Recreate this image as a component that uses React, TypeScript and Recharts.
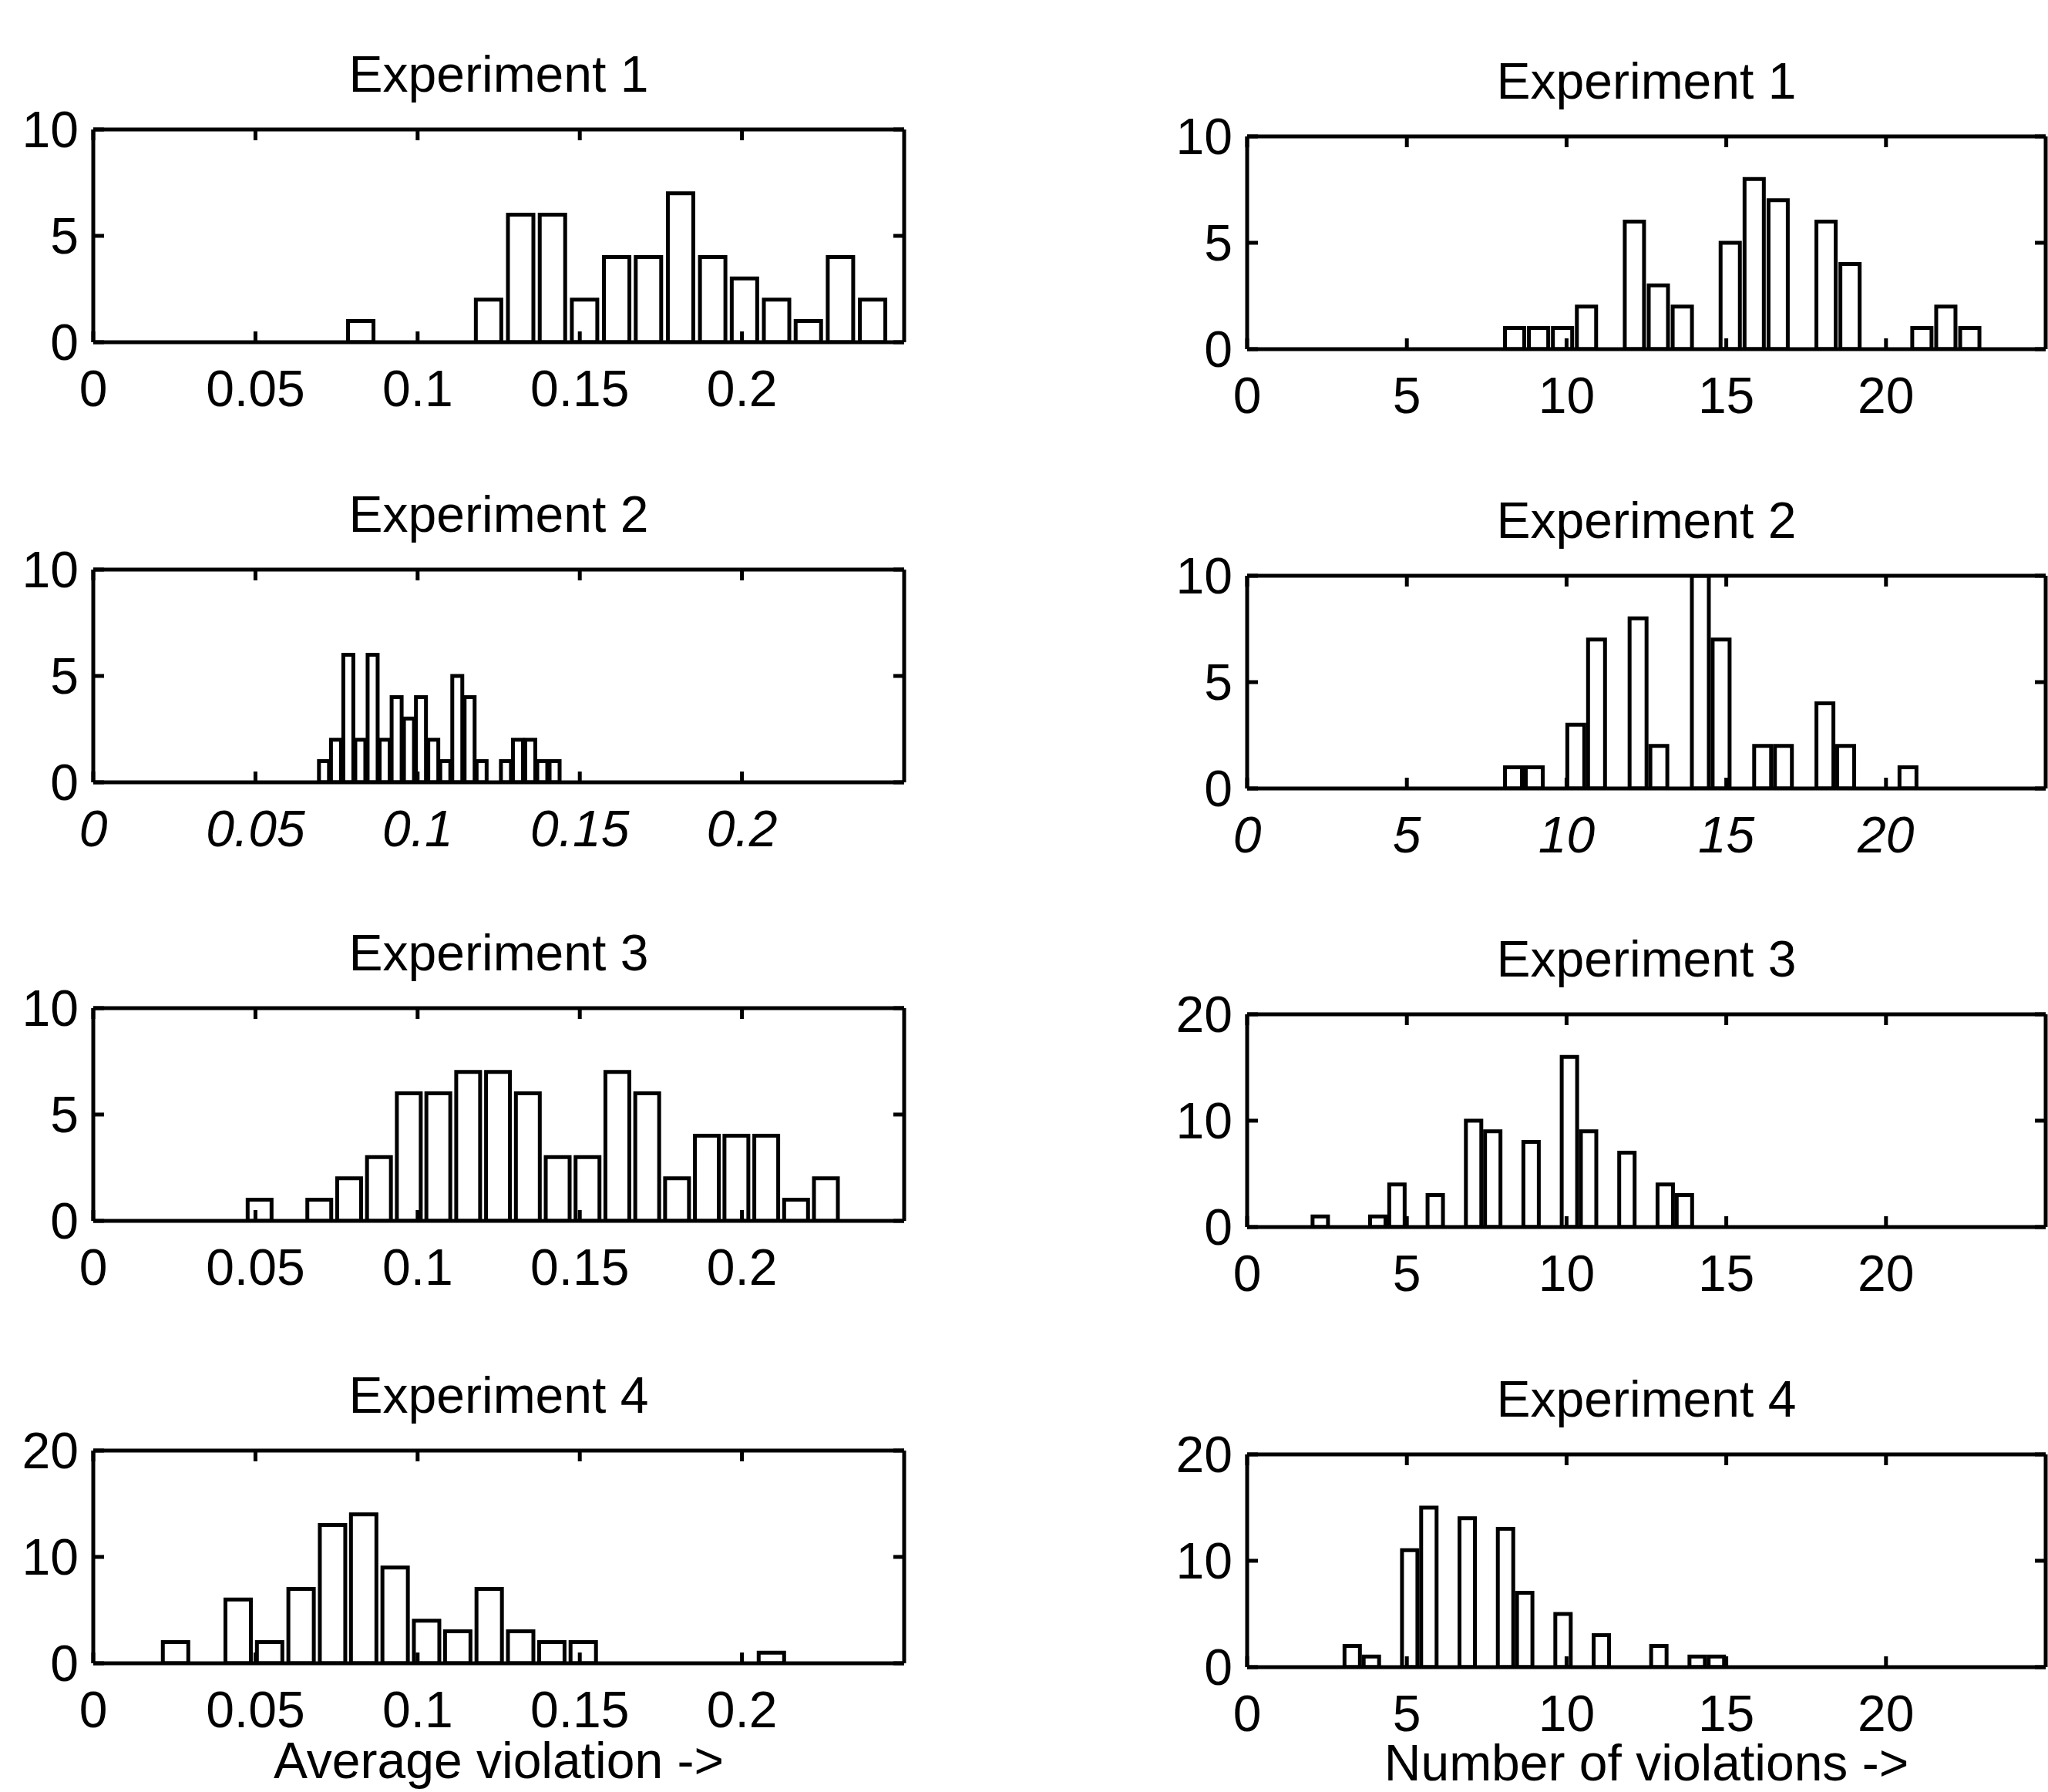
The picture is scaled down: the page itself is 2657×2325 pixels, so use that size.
import React from "react";
import { BarChart, Bar, XAxis, YAxis } from "recharts";

// left column: average violation (bin centres + counts)
const exp1AvgBins = [0.0825, 0.1219, 0.1318, 0.1416, 0.1515, 0.1614, 0.1712, 0.1811, 0.191, 0.2008, 0.2107, 0.2205, 0.2304, 0.2403];
const exp1AvgCounts = [1, 2, 6, 6, 2, 4, 4, 7, 4, 3, 2, 1, 4, 2];

const exp2AvgBins = [0.0712, 0.0749, 0.0787, 0.0824, 0.0862, 0.0899, 0.0936, 0.0974, 0.1011, 0.1049, 0.1086, 0.1123, 0.1161, 0.1198, 0.1273, 0.131, 0.1348, 0.1385, 0.1423];
const exp2AvgCounts = [1, 2, 6, 2, 6, 2, 4, 3, 4, 2, 1, 5, 4, 1, 1, 2, 2, 1, 1];

const exp3AvgBins = [0.0512, 0.0696, 0.0788, 0.088, 0.0972, 0.1063, 0.1155, 0.1247, 0.1339, 0.1431, 0.1523, 0.1615, 0.1707, 0.1799, 0.1891, 0.1982, 0.2074, 0.2166, 0.2258];
const exp3AvgCounts = [1, 1, 2, 3, 6, 6, 7, 7, 6, 3, 3, 7, 6, 2, 4, 4, 4, 1, 2];

const exp4AvgBins = [0.0253, 0.0446, 0.0543, 0.064, 0.0737, 0.0833, 0.093, 0.1027, 0.1123, 0.122, 0.1317, 0.1413, 0.151, 0.209];
const exp4AvgCounts = [2, 6, 2, 7, 13, 14, 9, 4, 3, 7, 3, 2, 2, 1];

// right column: number of violations
const exp1NumBins = [8.375, 9.125, 9.875, 10.625, 12.125, 12.875, 13.625, 15.125, 15.875, 16.625, 18.125, 18.875, 21.125, 21.875, 22.625];
const exp1NumCounts = [1, 1, 1, 2, 6, 3, 2, 5, 8, 7, 6, 4, 1, 2, 1];

const exp2NumBins = [8.35, 9.0, 10.3, 10.95, 12.25, 12.9, 14.2, 14.85, 16.15, 16.8, 18.1, 18.75, 20.7];
const exp2NumCounts = [1, 1, 3, 7, 8, 2, 10, 7, 2, 2, 4, 2, 1];

const exp3NumBins = [2.3, 4.1, 4.7, 5.9, 7.1, 7.7, 8.9, 10.1, 10.7, 11.9, 13.1, 13.7];
const exp3NumCounts = [1, 1, 4, 3, 10, 9, 8, 16, 9, 7, 4, 3];

const exp4NumBins = [3.3, 3.9, 5.1, 5.7, 6.9, 8.1, 8.7, 9.9, 11.1, 12.9, 14.1, 14.7];
const exp4NumCounts = [2, 1, 11, 15, 14, 13, 7, 5, 3, 2, 1, 1];

const avgTicks = [0, 0.05, 0.1, 0.15, 0.2];
const numTicks = [0, 5, 10, 15, 20];
const yTicks10 = [0, 5, 10];
const yTicks20 = [0, 10, 20];
const titles = ["Experiment 1", "Experiment 2", "Experiment 3", "Experiment 4"];

const FONT = '"Liberation Sans", Arial, Helvetica, sans-serif';
const FS = 66;
const LW = 140;
const RW = 20;
const TH = 60; // room above the box so the top y label isn't clipped
const BH = 120;

type HistProps = {
  bins: number[];
  counts: number[];
  binWidth: number;
  xMax: number;
  xTicks: number[];
  yMax: number;
  yTicks: number[];
  left: number;
  top: number;
  plotW: number;
  plotH: number;
  title: string;
  italicX?: boolean;
};

function Hist({ bins, counts, binWidth, xMax, xTicks, yMax, yTicks, left, top, plotW, plotH, title, italicX }: HistProps) {
  const data = bins.map((x, i) => ({ x, n: counts[i] }));
  const barSize = Math.round((binWidth / xMax) * plotW * 0.8);
  const tickFont = { fontFamily: FONT, fontSize: FS, fill: "#000" };
  const line = { stroke: "#000", strokeWidth: 5 };
  const blank = () => "";

  return (
    <>
      <div
        style={{
          position: "absolute",
          left,
          top: top - 105,
          width: plotW,
          textAlign: "center",
          fontFamily: FONT,
          fontSize: FS,
          lineHeight: `${FS}px`,
        }}
      >
        {title}
      </div>
      <div style={{ position: "absolute", left: left - LW, top: top - TH }}>
        <BarChart
          width={LW + plotW + RW}
          height={TH + plotH + BH}
          data={data}
          margin={{ top: 0, right: 0, bottom: 0, left: 0 }}
        >
          <XAxis
            xAxisId="bottom"
            dataKey="x"
            type="number"
            domain={[0, xMax]}
            allowDataOverflow
            ticks={xTicks}
            interval={0}
            height={BH}
            tickSize={-14}
            tickMargin={50}
            tick={{ ...tickFont, fontStyle: italicX ? "italic" : "normal" }}
            axisLine={line}
            tickLine={line}
          />
          <XAxis
            xAxisId="top"
            orientation="top"
            dataKey="x"
            type="number"
            domain={[0, xMax]}
            allowDataOverflow
            ticks={xTicks}
            interval={0}
            height={TH}
            tickSize={-14}
            tickFormatter={blank}
            axisLine={line}
            tickLine={line}
          />
          <YAxis
            yAxisId="left"
            type="number"
            domain={[0, yMax]}
            allowDataOverflow
            ticks={yTicks}
            interval={0}
            width={LW}
            tickSize={-14}
            tickMargin={33}
            tick={tickFont}
            axisLine={line}
            tickLine={line}
          />
          <YAxis
            yAxisId="right"
            orientation="right"
            type="number"
            domain={[0, yMax]}
            allowDataOverflow
            ticks={yTicks}
            interval={0}
            width={RW}
            tickSize={-14}
            tickFormatter={blank}
            axisLine={line}
            tickLine={line}
          />
          <Bar
            xAxisId="bottom"
            yAxisId="left"
            dataKey="n"
            fill="#fff"
            stroke="#000"
            strokeWidth={5}
            barSize={barSize}
            isAnimationActive={false}
          />
        </BarChart>
      </div>
    </>
  );
}

const leftX = 121;
const leftW = 1052;
const leftTops = [168, 739, 1308, 1882];
const rightX = 1618;
const rightW = 1036;
const rightTops = [177, 747, 1316, 1887];
const PH = 276;

// the x labels sit tight under the tick labels, so use a compact line box
const xLabelStyle: React.CSSProperties = {
  position: "absolute",
  textAlign: "center",
  fontFamily: FONT,
  fontSize: FS,
  lineHeight: "50px",
  height: 50,
};

export default function App() {
  const avg = [
    { bins: exp1AvgBins, counts: exp1AvgCounts, bw: 0.00986, yMax: 10, yTicks: yTicks10 },
    { bins: exp2AvgBins, counts: exp2AvgCounts, bw: 0.00374, yMax: 10, yTicks: yTicks10 },
    { bins: exp3AvgBins, counts: exp3AvgCounts, bw: 0.00919, yMax: 10, yTicks: yTicks10 },
    { bins: exp4AvgBins, counts: exp4AvgCounts, bw: 0.00967, yMax: 20, yTicks: yTicks20 },
  ];
  const num = [
    { bins: exp1NumBins, counts: exp1NumCounts, bw: 0.75, yMax: 10, yTicks: yTicks10 },
    { bins: exp2NumBins, counts: exp2NumCounts, bw: 0.65, yMax: 10, yTicks: yTicks10 },
    { bins: exp3NumBins, counts: exp3NumCounts, bw: 0.6, yMax: 20, yTicks: yTicks20 },
    { bins: exp4NumBins, counts: exp4NumCounts, bw: 0.6, yMax: 20, yTicks: yTicks20 },
  ];

  return (
    <div
      style={{
        position: "absolute",
        left: 0,
        top: 0,
        width: 2657,
        height: 2325,
        overflow: "hidden",
        background: "#fff",
      }}
    >
      {avg.map((p, i) => (
        <Hist
          key={"a" + i}
          bins={p.bins}
          counts={p.counts}
          binWidth={p.bw}
          xMax={0.25}
          xTicks={avgTicks}
          yMax={p.yMax}
          yTicks={p.yTicks}
          left={leftX}
          top={leftTops[i]}
          plotW={leftW}
          plotH={PH}
          title={titles[i]}
          italicX={i === 1}
        />
      ))}
      {num.map((p, i) => (
        <Hist
          key={"n" + i}
          bins={p.bins}
          counts={p.counts}
          binWidth={p.bw}
          xMax={25}
          xTicks={numTicks}
          yMax={p.yMax}
          yTicks={p.yTicks}
          left={rightX}
          top={rightTops[i]}
          plotW={rightW}
          plotH={PH}
          title={titles[i]}
          italicX={i === 1}
        />
      ))}
      <div style={{ ...xLabelStyle, left: leftX, top: 2259, width: leftW }}>
        Average violation -&gt;
      </div>
      <div style={{ ...xLabelStyle, left: rightX, top: 2262, width: rightW }}>
        Number of violations -&gt;
      </div>
    </div>
  );
}
